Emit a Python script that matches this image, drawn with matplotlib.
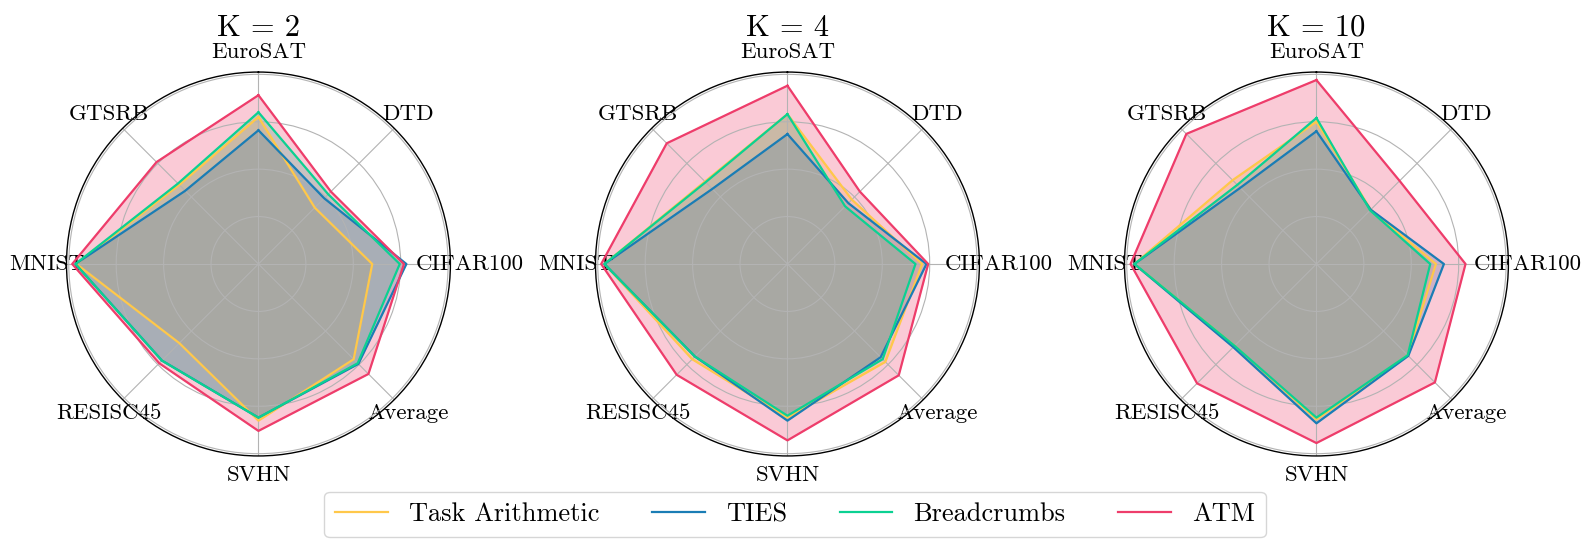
import numpy as np
import matplotlib
matplotlib.use("Agg")
import matplotlib.pyplot as plt

plt.rcParams['font.family'] = 'serif'
plt.rcParams['font.serif'] = ['cmr10']
plt.rcParams['mathtext.fontset'] = 'cm'
plt.rcParams['axes.formatter.use_mathtext'] = True

categories = ["EuroSAT", "DTD", "CIFAR100", "Average", "SVHN", "RESISC45", "MNIST", "GTSRB"]
methods = ["Task Arithmetic", "TIES", "Breadcrumbs", "ATM"]
colors = ["#FFC84A", "#1A7DB5", "#0BD192", "#EE3D6B"]
panel_titles = ["K = 2", "K = 4", "K = 10"]

# normalized scores (grid circle 1.0 = outer gridline)
k2_ta = [0.775, 0.42, 0.60, 0.71, 0.826, 0.59, 0.96, 0.59]
k2_ties = [0.705, 0.49, 0.78, 0.745, 0.81, 0.72, 0.965, 0.546]
k2_bc = [0.80, 0.52, 0.745, 0.74, 0.81, 0.72, 0.965, 0.60]
k2_atm = [0.89, 0.54, 0.767, 0.82, 0.88, 0.74, 0.982, 0.76]

k4_ta = [0.79, 0.48, 0.71, 0.73, 0.81, 0.71, 0.965, 0.615]
k4_ties = [0.685, 0.454, 0.733, 0.695, 0.826, 0.69, 0.965, 0.56]
k4_bc = [0.79, 0.43, 0.675, 0.71, 0.80, 0.69, 0.965, 0.61]
k4_atm = [0.94, 0.54, 0.742, 0.83, 0.93, 0.826, 0.982, 0.90]

k10_ta = [0.75, 0.405, 0.63, 0.68, 0.82, 0.61, 0.96, 0.625]
k10_ties = [0.70, 0.405, 0.672, 0.685, 0.84, 0.62, 0.96, 0.568]
k10_bc = [0.77, 0.40, 0.60, 0.68, 0.81, 0.61, 0.96, 0.59]
k10_atm = [0.97, 0.62, 0.786, 0.883, 0.944, 0.89, 0.98, 0.97]

panels = [
    [k2_ta, k2_ties, k2_bc, k2_atm],
    [k4_ta, k4_ties, k4_bc, k4_atm],
    [k10_ta, k10_ties, k10_bc, k10_atm],
]

fig = plt.figure(figsize=(15.9, 5.5), dpi=100)
n = len(categories)
angles = np.linspace(0, 2 * np.pi, n, endpoint=False)
closed = np.concatenate([angles, angles[:1]])

lefts = [0.0418, 0.3745, 0.7072]
handles = []
for pi, (left, series, title) in enumerate(zip(lefts, panels, panel_titles)):
    ax = fig.add_axes([left, 0.171, 0.2415, 0.698], projection='polar')
    ax.set_theta_offset(np.pi / 2)
    ax.set_theta_direction(-1)
    for vals, col, name in zip(series, colors, methods):
        v = np.concatenate([vals, vals[:1]])
        ln, = ax.plot(closed, v, color=col, lw=1.6, label=name)
        ax.fill(closed, v, color=col, alpha=0.27)
        if pi == 0:
            handles.append(ln)
    ax.set_ylim(0, 1.012)
    ax.set_yticks([0.25, 0.5, 0.75, 1.0])
    ax.set_yticklabels([])
    ax.set_xticks(angles)
    ax.set_xticklabels(categories, fontsize=16.5)
    ax.tick_params(axis='x', pad=3.5)
    ax.grid(True, color='#b3b3b3', lw=0.8)
    ax.spines['polar'].set_color('black')
    ax.spines['polar'].set_linewidth(1.0)
    ax.set_title(title, fontsize=22, y=1.095, pad=0)

fig.legend(handles, methods, loc='lower center', bbox_to_anchor=(0.5, 0.0),
           ncol=4, fontsize=19, frameon=True, fancybox=True)

fig.savefig("out.png", dpi=100)
